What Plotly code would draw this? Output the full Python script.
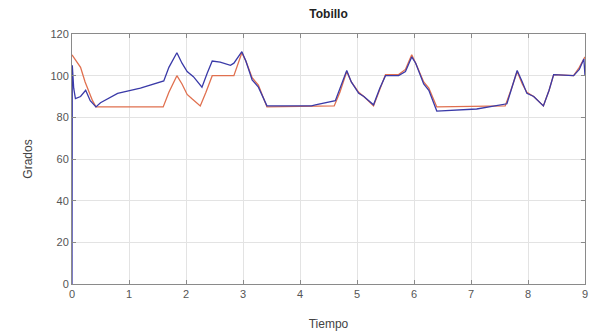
import plotly.graph_objects as go

# Red series (time, degrees)
red_t = [0, 0.05, 0.15, 0.23, 0.29, 0.36, 0.42, 1.6, 1.7, 1.84, 1.93, 2.02, 2.1, 2.25, 2.35, 2.46, 2.84, 2.92, 2.98,
         3.05, 3.16, 3.27, 3.42, 4.6, 4.7, 4.82, 4.9, 5.03, 5.12, 5.29, 5.4, 5.5, 5.73, 5.85, 5.96, 6.03, 6.17, 6.26,
         6.4, 7.6, 7.7, 7.81, 7.9, 7.98, 8.1, 8.27, 8.37, 8.45, 8.8, 8.9, 9.0]
red_v = [110, 108, 104, 97, 93, 88, 85, 85, 92, 100, 96, 91, 89, 85.5, 92, 100, 100, 106, 111,
         107, 99, 95.5, 85, 85.5, 92, 102, 97, 92, 90, 85.5, 93, 100.5, 100.5, 103, 110, 106, 97, 94,
         85, 85.5, 93, 102, 96, 92, 90, 85.5, 93, 100.5, 100, 104, 109]

# Blue series (time, degrees)
blue_t = [0, 0.005, 0.03, 0.06, 0.15, 0.24, 0.32, 0.42, 0.5, 0.8, 1.2, 1.49, 1.61, 1.7, 1.84, 1.93, 2.02, 2.13, 2.28,
          2.37, 2.46, 2.6, 2.78, 2.84, 2.98, 3.05, 3.16, 3.27, 3.42, 4.2, 4.27, 4.62, 4.7, 4.82, 4.9, 5.03, 5.12, 5.29,
          5.4, 5.5, 5.73, 5.85, 5.96, 6.03, 6.17, 6.26, 6.4, 7.1, 7.63, 7.72, 7.81, 7.9, 7.98, 8.1, 8.27, 8.37, 8.45,
          8.8, 8.9, 8.98, 9.0]
blue_v = [0, 105, 94, 89, 90, 93, 88, 85, 87, 91.5, 94, 96.5, 97.5, 104, 111, 106, 102, 99.5, 94.5,
          101, 107, 106.5, 105, 106, 111.5, 107, 98, 94.5, 85.5, 85.5, 86, 88, 94, 102.5, 97, 91.5, 90, 86,
          94, 100, 100, 102, 109, 106, 96, 93, 83, 84, 86.5, 94, 102.5, 97, 91.5, 90, 85.5, 93, 100.5,
          100, 103, 108, 100]

x_ticks = [0, 1, 2, 3, 4, 5, 6, 7, 8, 9]
y_ticks = [0, 20, 40, 60, 80, 100, 120]

fig = go.Figure()
fig.add_trace(go.Scatter(x=red_t, y=red_v, mode="lines",
                         line=dict(color="#e0704f", width=1.3), showlegend=False))
fig.add_trace(go.Scatter(x=blue_t, y=blue_v, mode="lines",
                         line=dict(color="#3a3aa8", width=1.3), showlegend=False))

axis_common = dict(showline=True, linecolor="#8a8a8a", linewidth=1, mirror="ticks",
                   ticks="inside", ticklen=4, tickcolor="#8a8a8a", automargin=False,
                   showgrid=True, gridcolor="#e3e3e3", gridwidth=1, zeroline=False,
                   tickfont=dict(family="Liberation Sans, Arial", size=11, color="#555555"))

fig.update_xaxes(range=[0, 9], tickvals=x_ticks, ticklabeloverflow="allow",
                 title=dict(text="Tiempo", standoff=20,
                            font=dict(family="Liberation Sans, Arial", size=12, color="#444444")),
                 **axis_common)
fig.update_yaxes(range=[0, 120], tickvals=y_ticks,
                 title=dict(text="Grados", standoff=15,
                            font=dict(family="Liberation Sans, Arial", size=12, color="#444444")),
                 **axis_common)

fig.update_layout(
    width=592, height=334,
    margin=dict(l=72, r=7, t=34, b=50, autoexpand=False),
    paper_bgcolor="white", plot_bgcolor="white",
    title=dict(text="<b>Tobillo</b>", x=0.555, xanchor="center", y=1 - 14 / 334, yanchor="middle",
               yref="container",
               font=dict(family="Liberation Sans, Arial", size=12, color="#222222")),
)

fig.write_html("out.html", config={"displayModeBar": False},
               post_script="document.body.style.margin='0px';")
